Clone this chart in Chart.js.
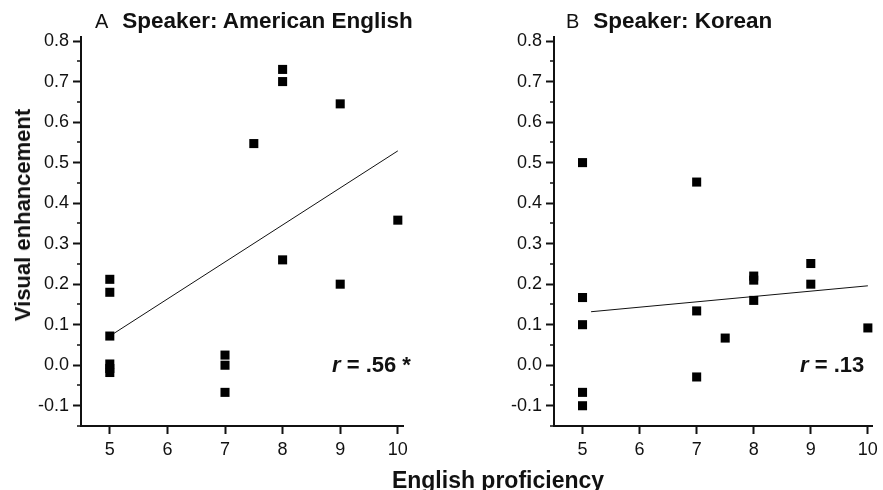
<!DOCTYPE html>
<html>
<head>
<meta charset="utf-8">
<script src="https://cdn.jsdelivr.net/npm/chart.js@4.4.1/dist/chart.umd.min.js"></script>
<style>
  html, body { margin: 0; padding: 0; background: #fff; }
  body { width: 883px; height: 490px; position: relative; overflow: hidden;
         font-family: "Liberation Sans", Arial, sans-serif; color: #111; }
  canvas { position: absolute; top: 0; }
  #chart_a { left: 0; }
  #chart_b { left: 472px; }
  .txt { position: absolute; white-space: nowrap; }
  .title { font-size: 22.5px; line-height: 22px; top: 10px; }
  .title span.lead { font-weight: normal; font-size: 20px; margin-right: 14px; }
  .title span.main { font-weight: bold; }
  .rlab { font-size: 22px; line-height: 22px; font-weight: bold; top: 354px; }
  .rlab i { font-style: italic; }
  #xtitle { font-size: 23px; line-height: 23px; font-weight: bold; top: 469px; left: 498px; transform: translateX(-50%); }
  #ytitle { font-size: 22px; line-height: 22px; font-weight: bold; left: 23px; top: 215px;
            transform: translate(-50%, -50%) rotate(-90deg); }
</style>
</head>
<body>
<canvas id="chart_a" width="450" height="490"></canvas>
<canvas id="chart_b" width="411" height="490"></canvas>

<div class="txt title" style="left:95px"><span class="lead">A</span><span class="main">Speaker: American English</span></div>
<div class="txt title" style="left:566px"><span class="lead">B</span><span class="main">Speaker: Korean</span></div>
<div class="txt rlab" style="left:332px"><i>r</i> = .56 *</div>
<div class="txt rlab" style="left:800px"><i>r</i> = .13</div>
<div class="txt" id="xtitle">English proficiency</div>
<div class="txt" id="ytitle">Visual enhancement</div>

<script>
// panel A - speaker: American English
let profA = [8, 8, 9, 7.5, 10, 8, 9, 5, 5, 5, 5, 5, 5, 7, 7, 7];
let enhA = [0.73, 0.70, 0.645, 0.547, 0.358, 0.26, 0.20, 0.212, 0.18, 0.072, 0.003, -0.008, -0.018, 0.025, 0.0, -0.067];
let fitXA = [5, 10];
let fitYA = [0.072, 0.529];

// panel B - speaker: Korean
let profB = [5, 5, 5, 5, 5, 7, 7, 7, 7.5, 8, 8, 8, 9, 9, 10];
let enhB = [0.5, 0.167, 0.1, -0.067, -0.1, 0.452, 0.134, -0.029, 0.067, 0.22, 0.21, 0.16, 0.251, 0.2, 0.092];
let fitXB = [5.15, 10];
let fitYB = [0.132, 0.196];

let xTicks = [5, 6, 7, 8, 9, 10];
let yTicks = [-0.1, 0.0, 0.1, 0.2, 0.3, 0.4, 0.5, 0.6, 0.7, 0.8];

function pts(xs, ys) {
    return xs.map((x, i) => ({x: x, y: ys[i]}));
}

// short minor ticks halfway between the labelled y ticks
let minorTicks = {
    id: 'minorTicks',
    afterDraw(chart) {
        let y = chart.scales.y;
        let left = chart.chartArea.left;
        let ctx = chart.ctx;
        ctx.save();
        ctx.strokeStyle = '#111';
        ctx.lineWidth = 1.5;
        for (let i = 0; i < yTicks.length; i++) {
            let v = yTicks[i] - 0.05;
            let py = Math.round(y.getPixelForValue(v));
            ctx.beginPath();
            ctx.moveTo(left - 4, py);
            ctx.lineTo(left, py);
            ctx.stroke();
        }
        ctx.restore();
    }
};

function makeChart(id, xs, ys, fx, fy, yWidth, padRight) {
    return new Chart(document.getElementById(id), {
        type: 'scatter',
        data: {
            datasets: [{
                data: pts(xs, ys),
                pointStyle: 'rect',
                pointRadius: 6.4,
                pointHoverRadius: 6.4,
                backgroundColor: '#000',
                borderWidth: 0,
                clip: false
            }, {
                data: pts(fx, fy),
                showLine: true,
                pointRadius: 0,
                borderColor: '#111',
                borderWidth: 1,
                clip: false
            }]
        },
        options: {
            responsive: false,
            animation: false,
            layout: {
                padding: {top: 37, right: padRight, bottom: 0, left: 0}
            },
            plugins: {
                legend: {display: false},
                tooltip: {enabled: false}
            },
            scales: {
                x: {
                    type: 'linear',
                    min: 4.5,
                    max: 10.09,
                    afterFit: s => { s.height = 64; },
                    afterBuildTicks: s => { s.ticks = xTicks.map(v => ({value: v})); },
                    ticks: {
                        padding: 5,
                        color: '#111',
                        font: {family: 'Liberation Sans', size: 18},
                        callback: v => String(v)
                    },
                    grid: {
                        drawOnChartArea: false,
                        tickLength: 8,
                        tickWidth: 2,
                        tickColor: '#111'
                    },
                    border: {display: true, color: '#111', width: 2}
                },
                y: {
                    type: 'linear',
                    min: -0.15,
                    max: 0.81,
                    afterFit: s => { s.width = yWidth; },
                    afterBuildTicks: s => { s.ticks = yTicks.map(v => ({value: v})); },
                    ticks: {
                        padding: 4,
                        color: '#111',
                        font: {family: 'Liberation Sans', size: 18},
                        callback: v => (Math.abs(v) < 1e-9 ? 0 : v).toFixed(1)
                    },
                    grid: {
                        drawOnChartArea: false,
                        tickLength: 8,
                        tickWidth: 2,
                        tickColor: '#111'
                    },
                    border: {display: true, color: '#111', width: 2}
                }
            }
        },
        plugins: [minorTicks]
    });
}

let chart_a = makeChart('chart_a', profA, enhA, fitXA, fitYA, 81, 47);
let chart_b = makeChart('chart_b', profB, enhB, fitXB, fitYB, 82, 8);
</script>
</body>
</html>
